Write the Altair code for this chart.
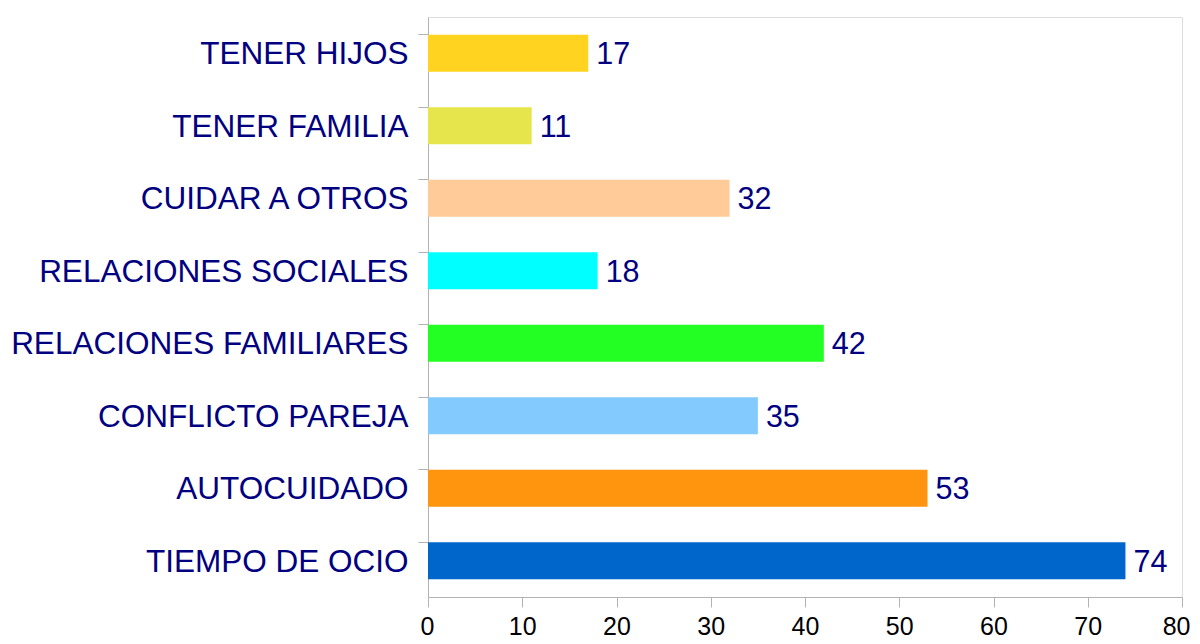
import altair as alt
import pandas as pd

categories = ["TENER HIJOS", "TENER FAMILIA", "CUIDAR A OTROS", "RELACIONES SOCIALES",
              "RELACIONES FAMILIARES", "CONFLICTO PAREJA", "AUTOCUIDADO", "TIEMPO DE OCIO"]
values = [17, 11, 32, 18, 42, 35, 53, 74]
colors = ["#ffd320", "#e6e64c", "#ffcc99", "#00ffff", "#23ff23", "#83caff", "#ff950e", "#0066cc"]
x_ticks = [0, 10, 20, 30, 40, 50, 60, 70, 80]

df = pd.DataFrame({"cat": categories, "val": values, "color": colors})

y_enc = alt.Y("cat:N", sort=categories, title=None,
              scale=alt.Scale(paddingInner=0.49, paddingOuter=0.245),
              axis=alt.Axis(bandPosition=0, tickSize=10, tickColor="#b3b3b3",
                            domainColor="#b3b3b3", labelFontSize=31.5,
                            labelFont="Liberation Sans", labelColor="#000080",
                            labelPadding=10, labelLimit=600, labelOffset=2, grid=False))
x_enc = alt.X("val:Q", title=None, scale=alt.Scale(domain=[0, 80], nice=False),
              axis=alt.Axis(values=x_ticks, tickSize=10, tickColor="#b3b3b3",
                            domainColor="#b3b3b3", labelFontSize=25,
                            labelFont="Liberation Sans", labelColor="#000000",
                            labelPadding=7, labelFlush=True, labelFlushOffset=8,
                            labelOverlap=False, grid=False))

bars = alt.Chart(df).mark_bar().encode(
    x=x_enc, y=y_enc, color=alt.Color("color:N", scale=None))
labels = alt.Chart(df).mark_text(align="left", baseline="middle", dx=8, dy=2,
                                 fontSize=30.5, font="Liberation Sans",
                                 color="#000080").encode(
    x="val:Q", y=alt.Y("cat:N", sort=categories), text="val:Q")

chart = (bars + labels).properties(
    width=754, height=580,
    autosize=alt.AutoSizeParams(type="none"),
    padding={"left": 420, "top": 9, "right": 10, "bottom": 47},
).configure_view(stroke="#b3b3b3", strokeWidth=1).configure(background="white")

chart.save("out.html", embed_options={"renderer": "svg", "actions": False})
